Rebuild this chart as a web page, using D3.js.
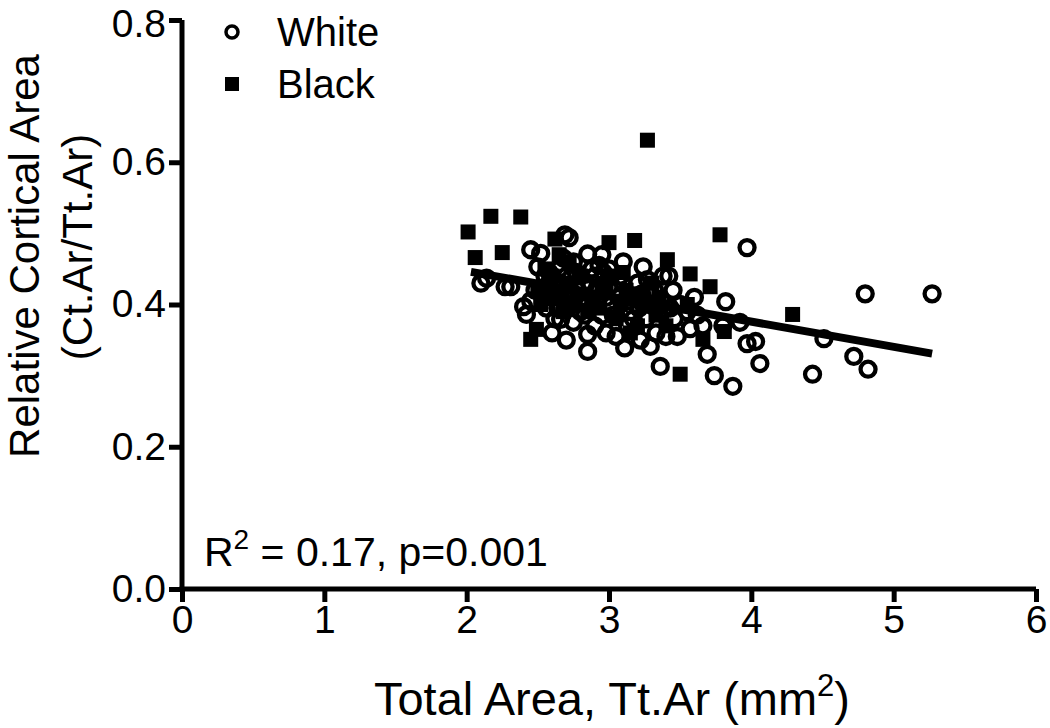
<!DOCTYPE html>
<html>
<head>
<meta charset="utf-8">
<script src="https://cdn.jsdelivr.net/npm/d3@7"></script>
<style>
  body { margin: 0; background: #fff; }
  text { font-family: "Liberation Sans", Arial, sans-serif; fill: #000; }
</style>
</head>
<body>
<div id="chart"></div>
<script>
// White subjects: [Tt.Ar, Ct.Ar/Tt.Ar]
const whitePts = [
  [2.10,0.430],[2.14,0.437],[2.27,0.425],[2.31,0.425],[2.40,0.397],[2.42,0.386],[2.45,0.405],
  [2.45,0.477],[2.52,0.472],[2.50,0.453],[2.55,0.440],[2.48,0.420],[2.58,0.430],[2.60,0.410],
  [2.56,0.395],[2.62,0.380],[2.66,0.379],[2.65,0.450],[2.69,0.498],[2.72,0.494],[2.75,0.460],
  [2.70,0.440],[2.78,0.420],[2.66,0.410],[2.74,0.400],[2.80,0.390],[2.85,0.471],[2.88,0.450],
  [2.82,0.430],[2.90,0.440],[2.93,0.420],[2.85,0.400],[2.95,0.385],[2.85,0.358],[2.85,0.334],
  [2.90,0.370],[2.98,0.360],[3.02,0.400],[3.05,0.420],[3.08,0.440],[3.00,0.450],[3.11,0.339],
  [3.13,0.370],[3.15,0.390],[3.18,0.410],[3.20,0.430],[3.24,0.453],[3.28,0.420],[3.30,0.400],
  [3.26,0.380],[3.29,0.341],[3.33,0.360],[3.36,0.313],[3.35,0.390],[3.38,0.440],[3.40,0.355],
  [3.46,0.380],[3.45,0.420],[3.50,0.400],[3.55,0.390],[3.57,0.366],[3.62,0.385],[3.66,0.370],
  [3.69,0.330],[3.74,0.300],[3.82,0.404],[3.80,0.370],[3.87,0.285],[3.92,0.375],[3.97,0.345],
  [3.97,0.480],[4.03,0.348],[4.06,0.317],[4.43,0.302],[4.51,0.352],[4.72,0.327],[4.80,0.415],
  [4.82,0.309],[5.27,0.415],[3.10,0.460],[2.95,0.470],[3.22,0.350],[3.42,0.440],[2.60,0.360],
  [2.75,0.375],[3.05,0.355],[2.70,0.350],[3.48,0.355],[3.60,0.410],[2.98,0.410],
  [2.53,0.415],[2.58,0.445],[2.63,0.425],[2.68,0.465],[2.72,0.415],[2.77,0.445],[2.79,0.405],
  [2.83,0.385],[2.87,0.425],[2.92,0.400],[2.96,0.445],[3.00,0.425],[3.03,0.385],[3.07,0.410],
  [3.10,0.430],[3.14,0.405],[3.17,0.380],[3.21,0.395],[3.23,0.415],[3.27,0.435],[3.32,0.420],
  [3.37,0.405],[3.43,0.395],[2.64,0.395],[2.93,0.455]
];

// Black subjects
const blackPts = [
  [2.01,0.502],[2.06,0.466],[2.17,0.524],[2.25,0.473],[2.38,0.523],[2.45,0.351],[2.49,0.365],
  [2.62,0.492],[2.55,0.450],[2.50,0.420],[2.58,0.410],[2.65,0.470],[2.70,0.430],[2.75,0.400],
  [2.68,0.390],[2.80,0.440],[2.88,0.410],[2.95,0.430],[3.00,0.487],[3.02,0.440],[3.08,0.400],
  [3.05,0.380],[3.12,0.420],[3.18,0.490],[3.20,0.370],[3.25,0.400],[3.27,0.631],[3.30,0.430],
  [3.35,0.410],[3.41,0.463],[3.40,0.370],[3.50,0.302],[3.57,0.443],[3.55,0.400],[3.66,0.351],
  [3.71,0.425],[3.78,0.498],[3.81,0.362],[4.29,0.386],[2.60,0.440],[2.85,0.390],[3.15,0.360],
  [2.52,0.400],[2.72,0.460],[2.56,0.425],[2.78,0.415],[2.92,0.395],[3.10,0.445],[3.22,0.415],
  [2.66,0.415],[2.98,0.420],[3.33,0.385]
];

// linear fit, all subjects
const fitRange = [2.03, 5.27];
const fitSlope = -0.0355;
const fitIntercept = 0.518;

const xTicks = [0, 1, 2, 3, 4, 5, 6];
const yTicks = [0.0, 0.2, 0.4, 0.6, 0.8];

const width = 1050, height = 728;
const svg = d3.select("#chart").append("svg")
    .attr("width", width)
    .attr("height", height);

const x = d3.scaleLinear().domain([0, 6]).range([182, 1036]);
const y = d3.scaleLinear().domain([0, 0.8]).range([589, 20]);

// axes
const xAxis = svg.append("g")
    .attr("transform", `translate(0,${y(0)})`)
    .call(d3.axisBottom(x).tickValues(xTicks).tickSize(13).tickPadding(3).tickFormat(d3.format("d")));
const yAxis = svg.append("g")
    .attr("transform", `translate(${x(0)},0)`)
    .call(d3.axisLeft(y).tickValues(yTicks).tickSize(13).tickPadding(3).tickFormat(d3.format(".1f")));

[xAxis, yAxis].forEach(g => {
    g.select(".domain").attr("stroke", "#000").attr("stroke-width", 5);
    g.selectAll(".tick line").attr("stroke", "#000").attr("stroke-width", 5);
    g.selectAll(".tick text").attr("font-size", 39).attr("fill", "#000");
});
xAxis.select(".domain").attr("d", `M${x(0) - 2.5},0H${x(6)}`);
yAxis.select(".domain").attr("d", `M0,${y(0.8)}V${y(0) + 2.5}`);
// top label sits against the page edge, nudge it down a bit
yAxis.selectAll(".tick text").filter(d => d === 0.8).attr("dy", "0.42em");

// black squares
const sq = 15;
svg.append("g").selectAll("rect")
    .data(blackPts)
    .enter().append("rect")
    .attr("x", d => x(d[0]) - sq / 2)
    .attr("y", d => y(d[1]) - sq / 2)
    .attr("width", sq)
    .attr("height", sq)
    .attr("fill", "#000");

// white circles (open)
svg.append("g").selectAll("circle")
    .data(whitePts)
    .enter().append("circle")
    .attr("cx", d => x(d[0]))
    .attr("cy", d => y(d[1]))
    .attr("r", 7.5)
    .attr("fill", "none")
    .attr("stroke", "#000")
    .attr("stroke-width", 4.3);

// regression line
svg.append("line")
    .attr("x1", x(fitRange[0]))
    .attr("y1", y(fitIntercept + fitSlope * fitRange[0]))
    .attr("x2", x(fitRange[1]))
    .attr("y2", y(fitIntercept + fitSlope * fitRange[1]))
    .attr("stroke", "#000")
    .attr("stroke-width", 8);

// legend
svg.append("circle").attr("cx", 232).attr("cy", 32).attr("r", 6)
    .attr("fill", "none").attr("stroke", "#000").attr("stroke-width", 3.5);
svg.append("rect").attr("x", 225).attr("y", 77).attr("width", 14).attr("height", 14).attr("fill", "#000");
svg.append("text").attr("x", 277).attr("y", 46).attr("font-size", 40).text("White");
svg.append("text").attr("x", 277).attr("y", 98).attr("font-size", 40).text("Black");

// stats annotation
const stat = svg.append("text").attr("x", 204).attr("y", 566).attr("font-size", 41);
stat.append("tspan").text("R");
stat.append("tspan").attr("dy", -17).attr("font-size", 28).text("2");
stat.append("tspan").attr("dy", 17).text(" = 0.17, p=0.001");

// axis titles
const xt = svg.append("text").attr("x", 612).attr("y", 715)
    .attr("text-anchor", "middle").attr("font-size", 47);
xt.append("tspan").text("Total Area, Tt.Ar (mm");
xt.append("tspan").attr("dy", -19).attr("font-size", 31).text("2");
xt.append("tspan").attr("dy", 19).text(")");

svg.append("text")
    .attr("transform", "translate(39,256) rotate(-90)")
    .attr("text-anchor", "middle").attr("font-size", 42)
    .text("Relative Cortical Area");
svg.append("text")
    .attr("transform", "translate(92,247) rotate(-90)")
    .attr("text-anchor", "middle").attr("font-size", 42)
    .text("(Ct.Ar/Tt.Ar)");
</script>
</body>
</html>
